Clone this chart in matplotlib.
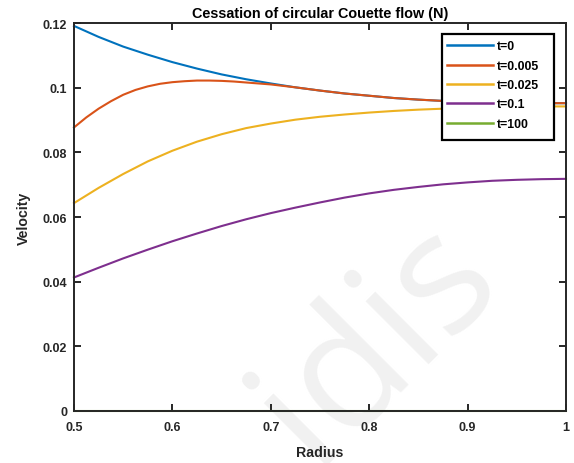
import matplotlib
matplotlib.use("Agg")
import matplotlib.pyplot as plt
from matplotlib.patches import Rectangle
from matplotlib.ticker import FuncFormatter

plt.rcParams['font.family'] = ['Liberation Sans', 'DejaVu Sans']

# radial positions
radius = [0.500, 0.525, 0.550, 0.575, 0.600, 0.625, 0.650, 0.675, 0.700, 0.725,
          0.750, 0.775, 0.800, 0.825, 0.850, 0.875, 0.900, 0.925, 0.950, 0.975, 1.000]
radius_t0005 = [0.5000, 0.5125, 0.5250, 0.5375, 0.5500, 0.5625, 0.5750, 0.5875, 0.6000,
                0.6125, 0.6250, 0.6375, 0.6500, 0.6625, 0.6750, 0.6875, 0.7000, 0.725,
                0.750, 0.775, 0.800, 0.825, 0.850, 0.875, 0.900, 0.925, 0.950, 0.975, 1.000]

# velocity profiles at each time
v_t0 = [0.1191, 0.1157, 0.1127, 0.1102, 0.1079, 0.1059, 0.1041, 0.1026, 0.1013, 0.1001,
        0.0991, 0.0982, 0.0975, 0.0968, 0.0963, 0.0959, 0.0956, 0.0954, 0.0953, 0.0952, 0.0952]
v_t0005 = [0.0877, 0.0908, 0.0935, 0.0958, 0.0978, 0.0993, 0.1004, 0.1012, 0.1017,
           0.1020, 0.1022, 0.1022, 0.1021, 0.1019, 0.1016, 0.1013, 0.1010, 0.1001,
           0.0991, 0.0982, 0.0975, 0.0968, 0.0963, 0.0959, 0.0956, 0.0954, 0.0953, 0.0952, 0.0952]
v_t0025 = [0.0643, 0.0690, 0.0733, 0.0772, 0.0805, 0.0833, 0.0856, 0.0875, 0.0889, 0.0901,
           0.0910, 0.0917, 0.0923, 0.0928, 0.0932, 0.0935, 0.0938, 0.0940, 0.0941, 0.0942, 0.0942]
v_t01 = [0.0413, 0.0443, 0.0472, 0.0499, 0.0525, 0.0549, 0.0572, 0.0593, 0.0612, 0.0629,
         0.0645, 0.0660, 0.0673, 0.0684, 0.0693, 0.0701, 0.0707, 0.0712, 0.0715, 0.0717, 0.0718]
v_t100 = [0.0] * len(radius)

labels = ['t=0', 't=0.005', 't=0.025', 't=0.1', 't=100']
colors = ['#0072BD', '#D95319', '#EDB120', '#7E2F8E', '#77AC30']

x_ticks = [0.5, 0.6, 0.7, 0.8, 0.9, 1.0]
y_ticks = [0, 0.02, 0.04, 0.06, 0.08, 0.10, 0.12]

W, H = 574, 464
fig = plt.figure(figsize=(W / 100, H / 100), dpi=100, facecolor='white')
ax = fig.add_axes([74 / W, 1 - 412 / H, 492 / W, 388 / H])
ax.set_facecolor('none')

# faint site mark behind the plot
fig.text(0.657, 0.262, 'idis', rotation=45, fontsize=120, color='#f1f1f1',
         ha='center', va='center', family='Open Sans', zorder=-1)

series = [(radius, v_t0), (radius_t0005, v_t0005), (radius, v_t0025),
          (radius, v_t01), (radius, v_t100)]
for (rr, vals), lab, col in zip(series, labels, colors):
    ax.plot(rr, vals, color=col, lw=1.5, label=lab, clip_on=False,
            solid_joinstyle='round')

ax.set_xlim(0.5, 1.0)
ax.set_ylim(0, 0.12)
ax.set_xticks(x_ticks)
ax.set_yticks(y_ticks)
ax.xaxis.set_major_formatter(FuncFormatter(lambda v, p: f'{v:g}'))
ax.yaxis.set_major_formatter(FuncFormatter(lambda v, p: f'{v:g}'))

dark = '#262626'
for s in ax.spines.values():
    s.set_color(dark)
    s.set_linewidth(1.4)
ax.tick_params(direction='in', length=5, width=1.4, color=dark, top=True, right=True,
               labelsize=9, labelcolor=dark)
ax.tick_params(axis='x', pad=7.5)
ax.tick_params(axis='y', pad=5)
for t in ax.get_xticklabels() + ax.get_yticklabels():
    t.set_fontweight('bold')

ax.set_title('Cessation of circular Couette flow (N)', fontsize=10.4, fontweight='bold',
             color='black', pad=4)
ax.set_xlabel('Radius', fontsize=10.2, fontweight='bold', color=dark, labelpad=8)
ax.set_ylabel('Velocity', fontsize=10.2, fontweight='bold', color=dark, labelpad=8)

# legend box
ax.add_patch(Rectangle((0.7486, 0.6993), 0.2276, 0.2724, transform=ax.transAxes,
                       facecolor='white', edgecolor='black', lw=1.6, zorder=4.5,
                       clip_on=False))
leg = ax.legend(loc='upper left', bbox_to_anchor=(0.7575, 0.955), borderaxespad=0,
                frameon=False, prop={'size': 8.8, 'weight': 'bold'}, handlelength=3.8,
                handletextpad=0.3, labelspacing=0.6, borderpad=0)
leg.set_zorder(5)
for line in leg.get_lines():
    line.set_linewidth(1.8)

fig.savefig('out.png', dpi=100, facecolor='white')
